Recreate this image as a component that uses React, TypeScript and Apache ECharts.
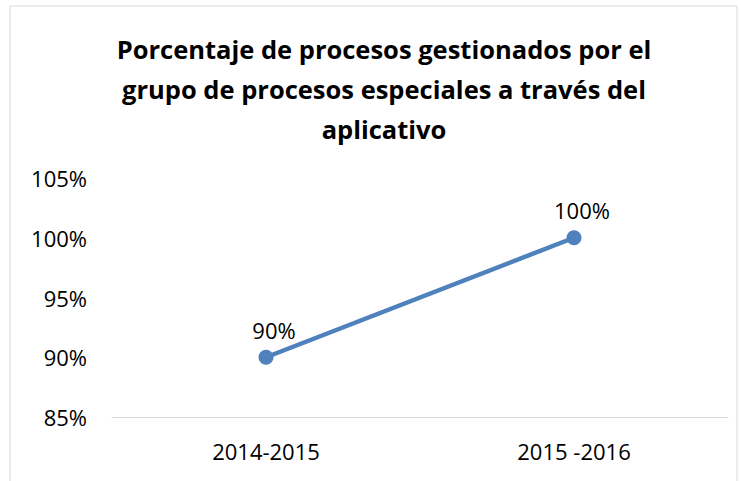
import React, { useEffect, useRef } from "react";
import * as echarts from "echarts";

const categories = ["2014-2015", "2015 -2016"];
const values = [90, 100];
const yMin = 85;
const yMax = 105;
const yInterval = 5;
const titleText = "Porcentaje de procesos gestionados por el\ngrupo de procesos especiales a través del\naplicativo";

const FONT = "'Open Sans', 'Noto Sans', sans-serif";

export default function App() {
  const ref = useRef<HTMLDivElement>(null);
  useEffect(() => {
    if (!ref.current) return;
    const chart = echarts.init(ref.current, null, { renderer: "svg" });
    chart.setOption({
      animation: false,
      backgroundColor: "#ffffff",
      title: {
        text: titleText,
        left: 379,
        top: 24,
        textAlign: "center",
        textStyle: {
          fontFamily: FONT,
          fontWeight: "bold",
          fontSize: 25.5,
          lineHeight: 40,
          color: "#000000",
        },
      },
      graphic: [
        {
          type: "rect",
          shape: { x: 10, y: 6, width: 727, height: 500 },
          style: { fill: "none", stroke: "#D9D9D9", lineWidth: 1 },
          silent: true,
        },
      ],
      grid: { left: 112, right: 13, top: 178, bottom: 64, containLabel: false },
      xAxis: {
        type: "category",
        data: categories,
        boundaryGap: true,
        axisLine: { show: true, lineStyle: { color: "#D9D9D9", width: 1 } },
        axisTick: { show: false },
        axisLabel: { margin: 23, fontFamily: FONT, fontSize: 22, color: "#000000" },
      },
      yAxis: {
        type: "value",
        min: yMin,
        max: yMax,
        interval: yInterval,
        axisLine: { show: false },
        axisTick: { show: false },
        splitLine: { show: false },
        axisLabel: {
          margin: 25,
          fontFamily: FONT,
          fontSize: 22,
          color: "#000000",
          formatter: (v: number) => v + "%",
        },
      },
      series: [
        {
          type: "line",
          data: values,
          symbol: "circle",
          symbolSize: 15,
          itemStyle: { color: "#4F81BD" },
          lineStyle: { color: "#4F81BD", width: 4.5 },
          label: {
            show: true,
            position: "top",
            distance: 9,
            offset: [8, 0],
            fontFamily: FONT,
            fontSize: 22,
            color: "#000000",
            formatter: (p: any) => p.value + "%",
          },
        },
      ],
    });
    return () => chart.dispose();
  }, []);
  return (
    <div
      ref={ref}
      style={{ position: "fixed", left: 0, top: 0, width: 741, height: 481 }}
    />
  );
}
